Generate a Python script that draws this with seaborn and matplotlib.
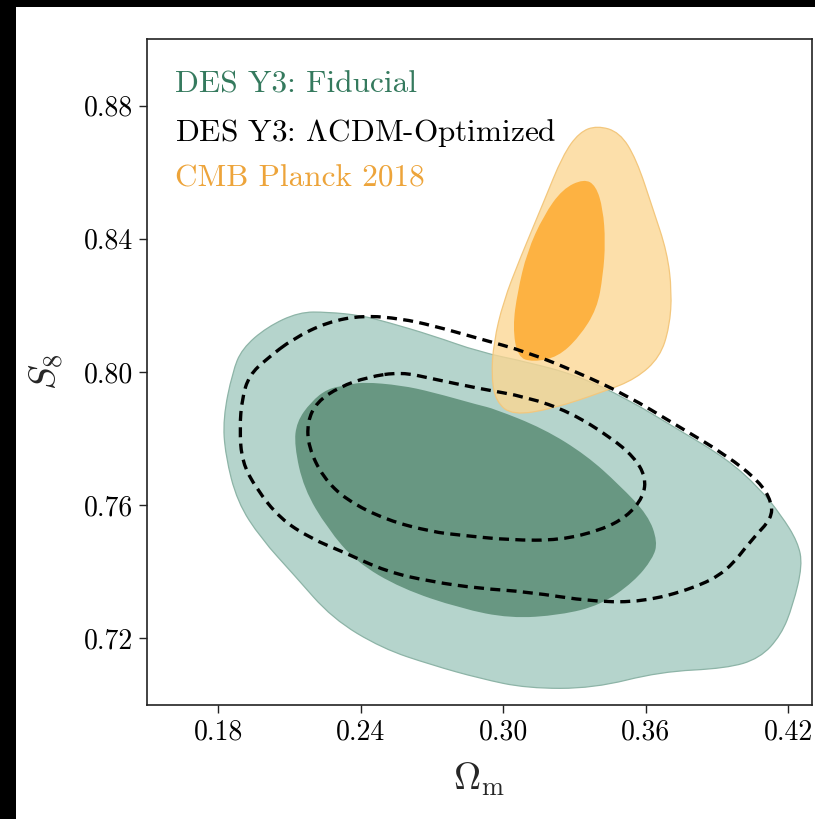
import numpy as np
import matplotlib
matplotlib.use("Agg")
import matplotlib.pyplot as plt
import seaborn as sns
from matplotlib.path import Path
from matplotlib.patches import PathPatch, Rectangle

# ---------------- data ----------------
# DES Y3 Fiducial, 2-sigma (outer) contour
fid_outer_om = [0.226, 0.240, 0.251, 0.270, 0.290, 0.310, 0.331, 0.352, 0.373, 0.394, 0.408,
                0.417, 0.424, 0.426, 0.422, 0.417, 0.408, 0.394, 0.366, 0.338, 0.310, 0.290,
                0.270, 0.249, 0.228, 0.212, 0.198, 0.188, 0.183, 0.182, 0.186, 0.190, 0.2005,
                0.214]
fid_outer_s8 = [0.818, 0.817, 0.815, 0.811, 0.806, 0.803, 0.799, 0.792, 0.783, 0.774, 0.765,
                0.757, 0.749, 0.742, 0.730, 0.721, 0.714, 0.711, 0.710, 0.705, 0.705, 0.708,
                0.712, 0.717, 0.726, 0.739, 0.750, 0.761, 0.775, 0.786, 0.800, 0.807, 0.8135,
                0.818]
# DES Y3 Fiducial, 1-sigma (inner) contour
fid_inner_om = [0.241, 0.257, 0.270, 0.290, 0.296, 0.317, 0.335, 0.349, 0.361, 0.365, 0.363,
                0.355, 0.341, 0.324, 0.303, 0.282, 0.257, 0.238, 0.226, 0.216, 0.212, 0.213,
                0.219, 0.226, 0.234]
fid_inner_s8 = [0.797, 0.796, 0.794, 0.790, 0.789, 0.783, 0.775, 0.766, 0.757, 0.749, 0.744,
                0.737, 0.730, 0.727, 0.726, 0.729, 0.735, 0.743, 0.753, 0.765, 0.778, 0.785,
                0.791, 0.795, 0.796]
# DES Y3 LCDM-Optimized, 2-sigma contour (dashed)
opt_outer_om = [0.2115, 0.226, 0.241, 0.257, 0.270, 0.290, 0.310, 0.331, 0.352, 0.373, 0.394,
                0.408, 0.413, 0.413, 0.405, 0.394, 0.380, 0.359, 0.338, 0.310, 0.290, 0.270,
                0.251, 0.2325, 0.219, 0.206, 0.196, 0.190, 0.189, 0.190, 0.193, 0.2005]
opt_outer_s8 = [0.810, 0.815, 0.817, 0.816, 0.814, 0.810, 0.806, 0.800, 0.793, 0.784, 0.775,
                0.767, 0.761, 0.756, 0.750, 0.740, 0.735, 0.731, 0.731, 0.734, 0.735, 0.737,
                0.740, 0.746, 0.750, 0.756, 0.765, 0.773, 0.783, 0.792, 0.799, 0.804]
# DES Y3 LCDM-Optimized, 1-sigma contour (dashed)
opt_inner_om = [0.257, 0.270, 0.290, 0.310, 0.328, 0.345, 0.355, 0.360, 0.359, 0.352, 0.341,
                0.324, 0.303, 0.282, 0.270, 0.251, 0.234, 0.224, 0.218, 0.2175, 0.2215, 0.231,
                0.243]
opt_inner_s8 = [0.800, 0.798, 0.795, 0.7925, 0.788, 0.7805, 0.7745, 0.7685, 0.7625, 0.7565,
                0.7525, 0.7495, 0.7495, 0.751, 0.752, 0.7555, 0.7615, 0.7685, 0.7775, 0.785,
                0.791, 0.7955, 0.7985]
# CMB Planck 2018, 2-sigma contour
cmb_outer_om = [0.332, 0.3395, 0.349, 0.356, 0.363, 0.369, 0.371, 0.370, 0.366, 0.356, 0.342,
                0.321, 0.304, 0.297, 0.295, 0.296, 0.300, 0.307, 0.317, 0.325]
cmb_outer_s8 = [0.872, 0.874, 0.872, 0.864, 0.849, 0.836, 0.824, 0.8135, 0.8045, 0.798, 0.794,
                0.789, 0.787, 0.791, 0.7985, 0.809, 0.821, 0.834, 0.851, 0.865]
# CMB Planck 2018, 1-sigma contour
cmb_inner_om = [0.334, 0.339, 0.342, 0.343, 0.342, 0.3395, 0.332, 0.323, 0.3125, 0.306, 0.304,
                0.306, 0.310, 0.317, 0.325]
cmb_inner_s8 = [0.858, 0.856, 0.849, 0.839, 0.829, 0.819, 0.8105, 0.8045, 0.803, 0.8045, 0.8135,
                0.824, 0.836, 0.847, 0.855]

legend_labels = ["DES Y3: Fiducial", r"DES Y3: $\Lambda$CDM-Optimized", "CMB Planck 2018"]
x_ticks = [0.18, 0.24, 0.30, 0.36, 0.42]
y_ticks = [0.72, 0.76, 0.80, 0.84, 0.88]

# ---------------- style ----------------
sns.set_theme(style="ticks")
plt.rcParams.update({
    "font.family": "serif",
    "font.serif": ["cmr10", "DejaVu Serif"],
    "mathtext.fontset": "cm",
    "axes.unicode_minus": False,
    "axes.formatter.use_mathtext": True,
    "axes.edgecolor": "#222222",
    "axes.linewidth": 1.2,
})

GREEN_LIGHT = "#b5d4cc"
GREEN_DARK = "#689782"
GREEN_EDGE = "#8db4a7"
GREEN_TEXT = "#357a5e"
ORANGE_LIGHT = "#fcd792"
ORANGE_DARK = "#fdb242"
ORANGE_TEXT = "#eda43a"


def smooth_closed_path(xs, ys):
    """Closed quadratic-Bezier path whose control points are the given vertices."""
    P = np.column_stack([xs, ys])
    M = (P + np.roll(P, -1, axis=0)) / 2.0
    verts = [M[-1]]
    codes = [Path.MOVETO]
    for i in range(len(P)):
        verts += [P[i], M[i]]
        codes += [Path.CURVE3, Path.CURVE3]
    verts.append(M[-1])
    codes.append(Path.CLOSEPOLY)
    return Path(np.array(verts), codes)


fig = plt.figure(figsize=(8.15, 8.19), dpi=100)
fig.patch.set_facecolor("white")
ax = fig.add_axes([147 / 815, 1 - 705 / 819, 665 / 815, 666 / 819])

# Fiducial
ax.add_patch(PathPatch(smooth_closed_path(fid_outer_om, fid_outer_s8),
                       facecolor=GREEN_LIGHT, edgecolor=GREEN_EDGE, lw=0.9, zorder=1))
ax.add_patch(PathPatch(smooth_closed_path(fid_inner_om, fid_inner_s8),
                       facecolor=GREEN_DARK, edgecolor="none", zorder=2))
# Planck
ax.add_patch(PathPatch(smooth_closed_path(cmb_outer_om, cmb_outer_s8),
                       facecolor=ORANGE_LIGHT, alpha=0.78, edgecolor="none", zorder=3))
ax.add_patch(PathPatch(smooth_closed_path(cmb_outer_om, cmb_outer_s8),
                       facecolor="none", edgecolor="#f3c77d", lw=0.9, zorder=3))
ax.add_patch(PathPatch(smooth_closed_path(cmb_inner_om, cmb_inner_s8),
                       facecolor=ORANGE_DARK, edgecolor="none", zorder=4))
# LCDM-optimized (dashed)
for xs, ys in [(opt_outer_om, opt_outer_s8), (opt_inner_om, opt_inner_s8)]:
    ax.add_patch(PathPatch(smooth_closed_path(xs, ys), facecolor="none",
                           edgecolor="black", lw=2.4, ls=(0, (3.0, 1.9)), zorder=5))

ax.set_xlim(0.15, 0.43)
ax.set_ylim(0.70, 0.90)
ax.set_xticks(x_ticks)
ax.set_yticks(y_ticks)
ax.set_xticklabels([f"{v:.2f}" for v in x_ticks])
ax.set_yticklabels([f"{v:.2f}" for v in y_ticks])
ax.tick_params(axis="both", direction="out", length=6, width=1.0, labelsize=20,
               pad=4, colors="#222222", labelcolor="black")
ax.set_xlabel(r"$\Omega_{\rm m}$", fontsize=27, labelpad=11)
ax.set_ylabel(r"$S_8$", fontsize=27, labelpad=13)

for label, col, yy in zip(legend_labels, [GREEN_TEXT, "black", ORANGE_TEXT],
                          [0.919, 0.847, 0.778]):
    ax.text(0.042, yy, label, color=col, fontsize=22.5, transform=ax.transAxes,
            ha="left", va="baseline", zorder=6)

# black strips at the top and left edge of the reference image
fig.add_artist(Rectangle((0, 1 - 7 / 819), 1, 7 / 819, transform=fig.transFigure,
                         facecolor="black", edgecolor="none", zorder=10))
fig.add_artist(Rectangle((0, 0), 16 / 815, 1, transform=fig.transFigure,
                         facecolor="black", edgecolor="none", zorder=10))

fig.savefig("out.png", dpi=100, facecolor="white")
